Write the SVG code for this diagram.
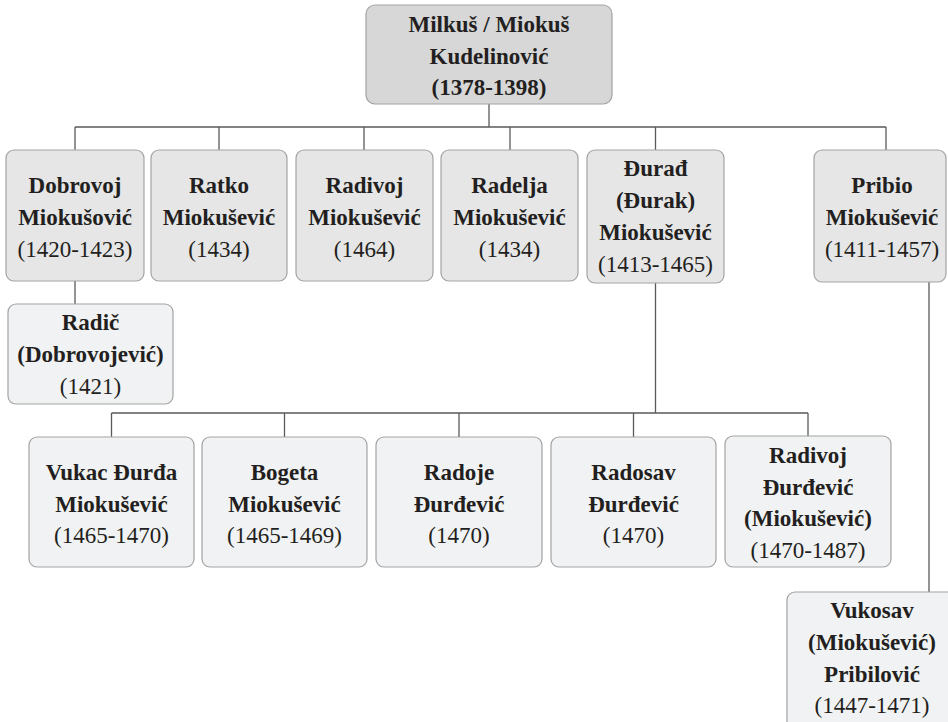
<svg xmlns="http://www.w3.org/2000/svg" width="948" height="722" viewBox="0 0 948 722">
<style>
.box{stroke:#a3a3a3;stroke-width:1.2}
.b0{fill:#d7d7d8}
.b1{fill:#e6e6e7}
.b2{fill:#f1f2f3}
.c{fill:none;stroke:#5a5a5a;stroke-width:1.3}
</style>
<rect width="948" height="722" fill="#ffffff"/>
<g id="connectors" class="c">
<path d="M489 104V127M75 127H886M75 127V150M219 127V150M364 127V150M510 127V150M655.5 127V150M886 127V150"/>
<path d="M75 281V304"/>
<path d="M655.5 283V413M111.5 413H808M111.5 413V437M284.5 413V437M459 413V437M633.5 413V437M808 413V436"/>
<path d="M929 282V592"/>
</g>
<g font-family="Liberation Serif, serif" font-size="23" fill="#231f20" text-anchor="middle">
<g id="root" font-weight="bold">
<rect class="box b0" x="366" y="5" width="246" height="99" rx="9"/>
<text x="489" y="32">Milkuš / Miokuš</text>
<text x="489" y="63.5">Kudelinović</text>
<text x="489" y="95">(1378-1398)</text>
</g>
<g id="dobrovoj">
<rect class="box b1" x="6" y="150" width="138" height="131" rx="8"/>
<text font-weight="bold" x="75" y="193">Dobrovoj</text>
<text font-weight="bold" x="75" y="225">Miokušović</text>
<text x="75" y="257">(1420-1423)</text>
</g>
<g id="ratko">
<rect class="box b1" x="151" y="150" width="136" height="131" rx="8"/>
<text font-weight="bold" x="219" y="193">Ratko</text>
<text font-weight="bold" x="219" y="225">Miokušević</text>
<text x="219" y="257">(1434)</text>
</g>
<g id="radivoj">
<rect class="box b1" x="296" y="150" width="137" height="131" rx="8"/>
<text font-weight="bold" x="364.5" y="193">Radivoj</text>
<text font-weight="bold" x="364.5" y="225">Miokušević</text>
<text x="364.5" y="257">(1464)</text>
</g>
<g id="radelja">
<rect class="box b1" x="441" y="150" width="137" height="131" rx="8"/>
<text font-weight="bold" x="509.5" y="193">Radelja</text>
<text font-weight="bold" x="509.5" y="225">Miokušević</text>
<text x="509.5" y="257">(1434)</text>
</g>
<g id="durad">
<rect class="box b1" x="587" y="150" width="137" height="133" rx="8"/>
<text font-weight="bold" x="655.5" y="176">Đurađ</text>
<text font-weight="bold" x="655.5" y="208">(Đurak)</text>
<text font-weight="bold" x="655.5" y="240">Miokušević</text>
<text x="655.5" y="272">(1413-1465)</text>
</g>
<g id="pribio">
<rect class="box b1" x="814" y="150" width="132" height="132" rx="8"/>
<text font-weight="bold" x="882" y="193">Pribio</text>
<text font-weight="bold" x="882" y="225">Miokušević</text>
<text x="882" y="257">(1411-1457)</text>
</g>
<g id="radic">
<rect class="box b2" x="8" y="304" width="165" height="100" rx="8"/>
<text font-weight="bold" x="90.5" y="330">Radič</text>
<text font-weight="bold" x="90.5" y="362">(Dobrovojević)</text>
<text x="90.5" y="394">(1421)</text>
</g>
<g id="vukac">
<rect class="box b2" x="29" y="437" width="165" height="130" rx="8"/>
<text font-weight="bold" x="111.5" y="480">Vukac Đurđa</text>
<text font-weight="bold" x="111.5" y="512">Miokušević</text>
<text x="111.5" y="543">(1465-1470)</text>
</g>
<g id="bogeta">
<rect class="box b2" x="202" y="437" width="165" height="130" rx="8"/>
<text font-weight="bold" x="284.5" y="480">Bogeta</text>
<text font-weight="bold" x="284.5" y="512">Miokušević</text>
<text x="284.5" y="543">(1465-1469)</text>
</g>
<g id="radoje">
<rect class="box b2" x="376" y="437" width="166" height="130" rx="8"/>
<text font-weight="bold" x="459" y="480">Radoje</text>
<text font-weight="bold" x="459" y="512">Đurđević</text>
<text x="459" y="543">(1470)</text>
</g>
<g id="radosav">
<rect class="box b2" x="551" y="437" width="165" height="130" rx="8"/>
<text font-weight="bold" x="633.5" y="480">Radosav</text>
<text font-weight="bold" x="633.5" y="512">Đurđević</text>
<text x="633.5" y="543">(1470)</text>
</g>
<g id="radivoj-durdevic">
<rect class="box b2" x="725" y="436" width="166" height="131" rx="8"/>
<text font-weight="bold" x="808" y="463">Radivoj</text>
<text font-weight="bold" x="808" y="495">Đurđević</text>
<text font-weight="bold" x="808" y="526">(Miokušević)</text>
<text x="808" y="558">(1470-1487)</text>
</g>
<g id="vukosav">
<rect class="box b2" x="787" y="592" width="170" height="140" rx="8"/>
<text font-weight="bold" x="872" y="618">Vukosav</text>
<text font-weight="bold" x="872" y="650">(Miokušević)</text>
<text font-weight="bold" x="872" y="682">Pribilović</text>
<text x="872" y="713">(1447-1471)</text>
</g>
</g>
</svg>
